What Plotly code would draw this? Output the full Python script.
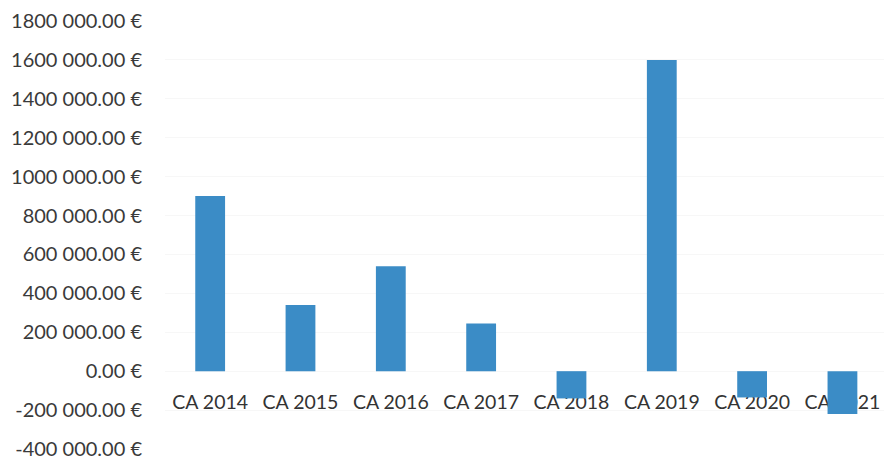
import plotly.graph_objects as go

categories = ["CA 2014", "CA 2015", "CA 2016", "CA 2017", "CA 2018", "CA 2019", "CA 2020", "CA 2021"]
values = [900000, 340000, 540000, 245000, -140000, 1600000, -135000, -220000]
tick_values = [-400000, -200000, 0, 200000, 400000, 600000, 800000, 1000000,
               1200000, 1400000, 1600000, 1800000]


def fmt(v):
    sign = "-" if v < 0 else ""
    a = abs(v)
    th, rem = divmod(a, 1000)
    if th:
        return f"{sign}{th} {rem:03d}.00 €"
    return f"{sign}{rem}.00 €"


tick_text = [fmt(v) for v in tick_values]

W, H = 884, 461
top, bottom = 21, 12
zero_frac = 2 / 11

fig = go.Figure(go.Bar(
    x=categories, y=values,
    marker=dict(color="#3B8CC6", line=dict(width=0)),
    width=0.33,
))

fig.update_layout(
    width=W, height=H,
    margin=dict(l=165, r=0, t=top, b=bottom, autoexpand=False),
    paper_bgcolor="white", plot_bgcolor="white",
    font=dict(family="Lato", size=18, color="#3a3a3a"),
    showlegend=False,
    bargap=0.67,
)
fig.update_xaxes(
    range=[-0.5, 7.46],
    anchor="free", position=zero_frac,
    showline=False, showgrid=False, zeroline=False,
    ticks="", ticklabelstandoff=17,
    ticklabeloverflow="allow",
    layer="below traces",
    tickfont=dict(size=19.5, color="#333333"),
)
fig.update_yaxes(
    range=[-400000, 1800000],
    tickvals=tick_values, ticktext=tick_text,
    showgrid=True, gridcolor="#f7f7f7",
    zeroline=False, showline=False,
    ticks="", ticklabelstandoff=22,
    ticklabeloverflow="allow",
    tickfont=dict(size=20, color="#3a3a3a"),
)

fig.write_html("out.html", config={"displayModeBar": False},
               post_script="document.body.style.margin='0';document.body.style.padding='0';")
